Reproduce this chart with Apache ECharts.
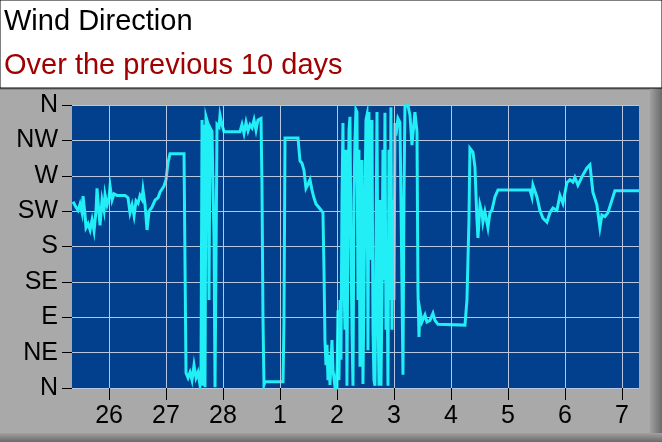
<!DOCTYPE html>
<html>
<head>
<meta charset="utf-8">
<script src="https://cdn.jsdelivr.net/npm/echarts@6/dist/echarts.min.js"></script>
<style>
html,body{margin:0;padding:0;background:#fff;}
#chart{width:662px;height:442px;}
</style>
</head>
<body>
<div id="chart"></div>
<script>
// Day ticks (0 = the 26th)
var dayTicks = [0,1,2,3,4,5,6,7,8,9];
var dayLabels = ['26','27','28','1','2','3','4','5','6','7'];
var compassLabels = ['N','NE','E','SE','S','SW','W','NW','N'];

// time in days since the 26th
var times = [
-0.632,-0.579,-0.544,-0.509,-0.474,-0.456,-0.421,-0.404,-0.368,-0.333,-0.298,-0.263,-0.228,-0.211,-0.175,-0.158,-0.123,-0.088,-0.070,-0.035,
0.000,0.018,0.053,0.088,0.140,0.281,0.333,0.368,0.404,0.439,0.474,0.509,0.544,0.579,0.596,0.632,0.667,0.702,0.754,0.807,0.860,0.895,0.930,0.965,
1.000,1.035,1.070,1.316,1.333,1.351,1.386,1.421,1.456,1.491,1.526,1.561,1.596,1.614,1.632,1.649,1.667,1.684,1.702,1.737,1.754,1.772,1.807,1.842,1.860,1.895,1.930,1.947,1.982,
2.018,2.298,2.333,2.368,2.404,2.439,2.474,2.509,2.544,2.579,2.614,2.667,2.684,2.702,2.719,2.737,
3.053,3.070,3.088,3.316,3.351,3.386,3.421,3.456,3.491,3.526,3.561,3.596,3.632,3.702,3.754,3.772,3.789,3.807,3.825,3.842,3.860,3.877,3.912,3.930,
3.965,3.982,4.000,4.018,4.035,4.053,4.070,4.088,4.105,4.123,4.140,4.158,4.175,4.193,4.211,4.228,4.246,4.263,4.281,4.298,
4.316,4.333,4.351,4.368,4.386,4.404,4.421,4.439,4.456,4.474,4.491,4.509,4.526,4.544,4.561,4.579,4.596,4.614,4.632,4.649,
4.667,4.684,4.702,4.719,4.737,4.754,4.772,4.789,4.807,4.825,4.842,4.860,4.877,4.895,4.912,4.930,4.947,4.965,4.982,5.000,
5.018,5.035,5.070,5.105,5.123,5.158,5.175,5.193,
5.246,5.281,5.316,5.368,5.404,5.421,5.439,5.456,5.491,5.544,5.579,5.632,5.684,5.719,5.772,5.807,
6.246,6.281,6.316,6.333,6.386,6.421,6.456,6.474,6.509,6.544,6.561,6.596,6.649,6.684,6.719,6.772,6.825,
7.386,7.421,7.439,7.509,7.561,7.614,7.684,7.737,7.789,7.860,7.912,7.965,
8.035,8.088,8.140,8.175,8.228,8.316,8.386,8.439,8.491,8.561,8.614,8.649,8.702,8.754,8.825,8.877,9.300
];
// wind direction in degrees
var directions = [
237,230,226,234,223,244,220,204,209,201,214,200,226,254,221,207,239,226,246,233,
242,257,239,247,245,245,242,223,233,219,238,235,245,240,252,233,201,225,230,239,242,249,249,257,
265,287,298,298,159,19,13,20,10,29,13,20,4,23,341,3,335,1,345,336,112,331,326,188,1,335,332,347,335,
326,326,335,324,338,327,335,331,341,328,341,343,256,86,4,8,
8,86,318,318,289,286,277,254,259,265,252,242,234,228,223,150,61,29,55,10,42,4,61,23,
1,10,4,99,10,112,36,239,337,137,74,303,3,214,328,345,176,74,3,239,
316,354,351,112,303,27,163,290,5,125,239,341,347,48,351,163,277,341,74,10,
3,176,351,112,3,239,3,112,303,137,350,74,176,3,303,112,357,74,239,112,
337,321,343,338,239,17,239,359,
359,347,309,351,326,125,65,99,84,93,84,86,95,86,81,80,
80,112,214,305,300,281,214,191,233,223,211,224,204,223,226,243,252,
252,243,258,243,226,216,211,223,229,226,245,235,
261,265,262,268,258,271,280,284,249,233,204,220,218,223,239,251,251
];

var n = Math.min(times.length, directions.length);
var seriesData = [];
for (var i = 0; i < n; i++) seriesData.push([times[i], directions[i]]);

var chart = echarts.init(document.getElementById('chart'), null, {renderer: 'canvas'});
var FONT = '"Liberation Sans", Arial, sans-serif';
var GRIDC = '#b8c6e0';

chart.setOption({
  animation: false,
  backgroundColor: '#ffffff',
  graphic: [
    {type: 'rect', z: -10, silent: true, shape: {x: 0, y: 88, width: 662, height: 354}, style: {fill: '#a9a9a9'}},
    {type: 'rect', z: -9, silent: true, shape: {x: 0, y: 88, width: 662, height: 2}, style: {fill: '#8c8c8c'}},
    {type: 'rect', z: -9, silent: true, shape: {x: 650, y: 88, width: 12, height: 354},
      style: {fill: new echarts.graphic.LinearGradient(0, 0, 1, 0, [{offset: 0, color: '#a0a0a0'}, {offset: 1, color: '#6a6a6a'}])}},
    {type: 'rect', z: -9, silent: true, shape: {x: 0, y: 433, width: 662, height: 9},
      style: {fill: new echarts.graphic.LinearGradient(0, 0, 0, 1, [{offset: 0, color: '#a0a0a0'}, {offset: 1, color: '#6a6a6a'}])}},
    {type: 'rect', z: -9, silent: true, shape: {x: 0, y: 0, width: 662, height: 88}, style: {fill: 'none', stroke: '#000', lineWidth: 1}}
  ],
  title: [
    {text: 'Wind Direction', left: 4, top: 7, padding: 0,
      textStyle: {fontFamily: FONT, fontSize: 29, fontWeight: 'normal', color: '#000000'}},
    {text: 'Over the previous 10 days', left: 4, top: 51, padding: 0,
      textStyle: {fontFamily: FONT, fontSize: 29, fontWeight: 'normal', color: '#a00000'}}
  ],
  grid: {left: 72, right: 23, top: 105, bottom: 54, show: true, backgroundColor: '#023f8c', borderWidth: 0},
  xAxis: {
    type: 'value', min: -0.65, max: 9.3,
    axisLine: {show: false, onZero: false},
    axisTick: {show: true, length: 12, customValues: dayTicks, lineStyle: {color: '#000', width: 1}},
    axisLabel: {customValues: dayTicks, margin: 16, fontFamily: FONT, fontSize: 25, color: '#000',
      formatter: function (v) { return dayLabels[Math.round(v)]; }},
    splitLine: {show: false}
  },
  yAxis: {
    type: 'value', min: 0, max: 360, interval: 45,
    axisLine: {show: false, onZero: false},
    axisTick: {show: true, length: 10, lineStyle: {color: '#000', width: 1}},
    axisLabel: {margin: 14, fontFamily: FONT, fontSize: 25, color: '#000',
      formatter: function (v) { return compassLabels[Math.round(v / 45)]; }},
    splitLine: {show: true, lineStyle: {color: GRIDC, width: 1}}
  },
  series: [
    {
      type: 'line', data: [], z: 1, silent: true,
      markLine: {
        silent: true, symbol: ['none', 'none'], animation: false,
        label: {show: false},
        lineStyle: {color: GRIDC, width: 1, type: 'solid'},
        emphasis: {disabled: true},
        data: dayTicks.map(function (d) { return {xAxis: d}; })
      }
    },
    {
      type: 'line', data: seriesData, showSymbol: false, clip: true, z: 3,
      lineStyle: {color: '#22eef6', width: 3, join: 'miter'}
    }
  ]
});
</script>
</body>
</html>
